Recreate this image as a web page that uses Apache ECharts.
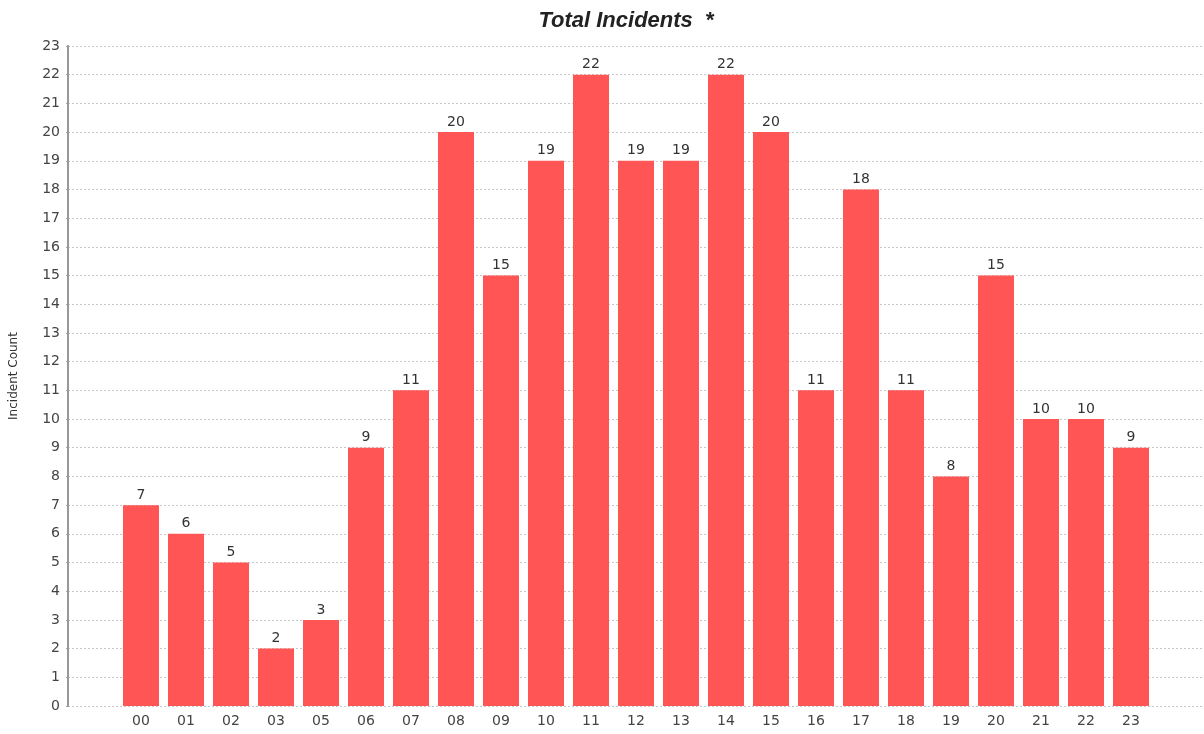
<!DOCTYPE html>
<html>
<head>
<meta charset="utf-8">
<script src="https://cdn.jsdelivr.net/npm/echarts@6/dist/echarts.min.js"></script>
<style>
  html, body { margin: 0; padding: 0; background: #fff; }
  #box { width: 1204px; height: 734px; }
</style>
</head>
<body>
<div id="box"></div>
<script>
const hours = ['00', '01', '02', '03', '05', '06', '07', '08', '09', '10', '11', '12',
  '13', '14', '15', '16', '17', '18', '19', '20', '21', '22', '23']
const incidents = [7, 6, 5, 2, 3, 9, 11, 20, 15, 19, 22, 19, 19, 22, 20, 11, 18, 11, 8, 15, 10, 10, 9]
const yMax = 23

const chart = echarts.init(document.getElementById('box'))
const options = {
  animation: false,
  title: {
    text: 'Total Incidents  *',
    left: 621,
    textAlign: 'center',
    top: 5,
    textStyle: { fontFamily: 'Liberation Sans', fontSize: 22, fontWeight: 'bold', fontStyle: 'italic', color: '#222' }
  },
  grid: [
    // frame with the y axis and the dashed lines
    { left: 67, right: 0, top: 46, bottom: 28 },
    // bars sit inside the category margins
    { left: 118.5, right: 50.5, top: 46, bottom: 28 }
  ],
  xAxis: [
    { gridIndex: 0, type: 'value', min: 0, max: 1, show: false },
    {
      gridIndex: 1,
      type: 'category',
      data: hours,
      axisLine: { show: false },
      axisTick: { show: false },
      axisLabel: { fontFamily: 'DejaVu Sans', fontSize: 14, color: '#444', margin: 8 }
    }
  ],
  yAxis: [
    {
      gridIndex: 0,
      type: 'value',
      min: 0,
      max: yMax,
      interval: 1,
      name: 'Incident Count',
      nameLocation: 'middle',
      nameGap: 48,
      nameTextStyle: { fontFamily: 'DejaVu Sans', fontSize: 12, color: '#333' },
      axisLine: { show: true, lineStyle: { color: '#999', width: 2 } },
      axisTick: { show: true, length: 2, lineStyle: { color: '#999' } },
      axisLabel: { fontFamily: 'DejaVu Sans', fontSize: 14, color: '#444', margin: 8 },
      splitLine: { show: true, lineStyle: { color: '#c8c8c8', type: [2, 2], width: 1 } }
    },
    { gridIndex: 1, type: 'value', min: 0, max: yMax, interval: 1, show: false, splitLine: { show: false } }
  ],
  series: [
    {
      type: 'bar',
      xAxisIndex: 1,
      yAxisIndex: 1,
      data: incidents,
      barCategoryGap: '20%',
      itemStyle: { color: '#ff5555' },
      label: {
        show: true,
        position: 'top',
        distance: 3,
        fontFamily: 'DejaVu Sans',
        fontSize: 14,
        color: '#333'
      }
    }
  ]
}
chart.setOption(options)
</script>
</body>
</html>
